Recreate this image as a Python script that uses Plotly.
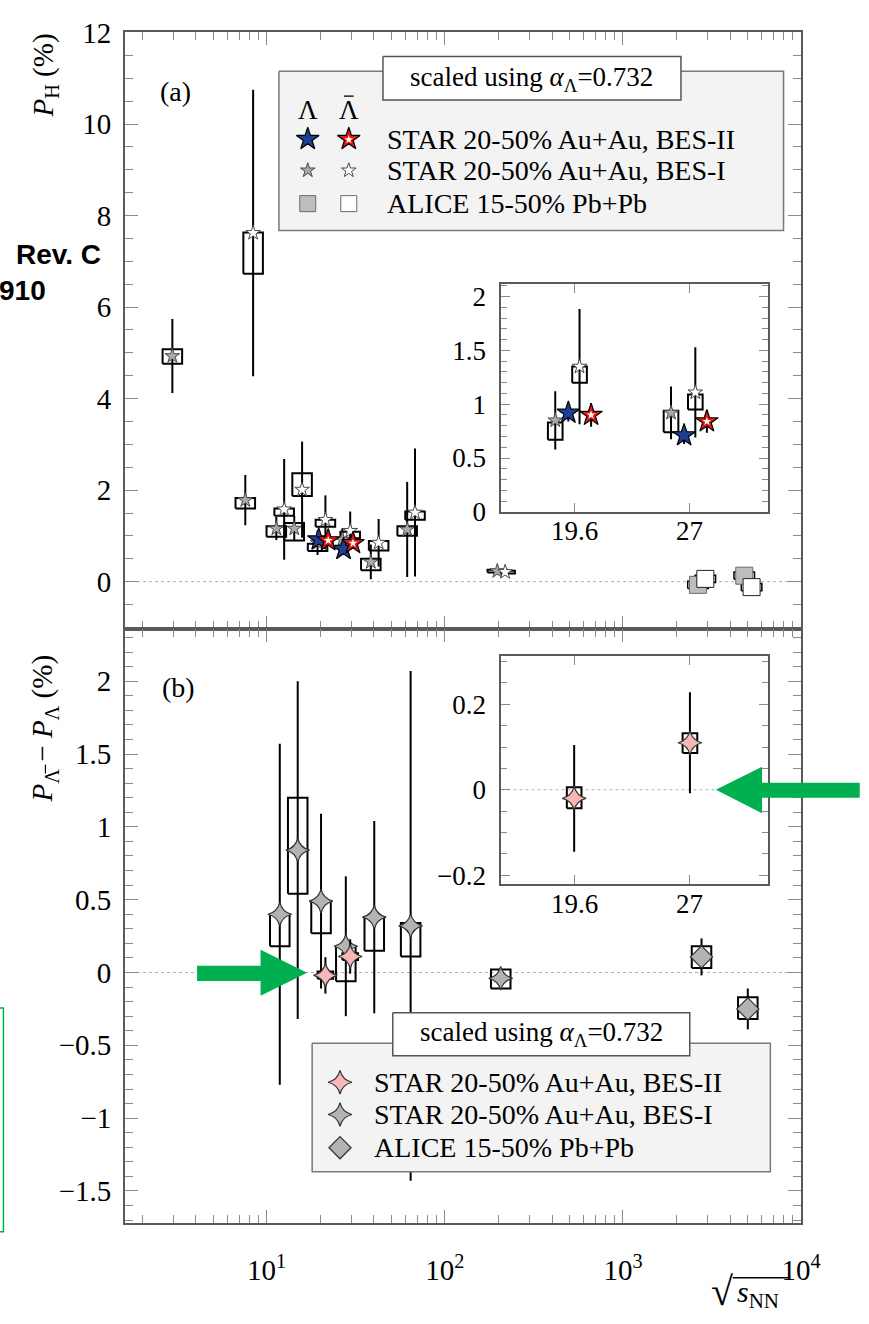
import numpy as np
import plotly.graph_objects as go

W, H = 869, 1324

# ------------------------------------------------------------------ data
# (a) global polarization P_H (%), STAR BES-I (incl. 3 GeV), Lambda
E_bes1_lam = [3.0, 7.7, 11.5, 14.5, 19.6, 27, 39, 62.4, 200]
P_bes1_lam = [4.93, 1.78, 1.16, 1.16, 0.85, 0.92, 0.43, 1.14, 0.23]
stat_bes1_lam = [0.81, 0.55, 0.25, 0.28, 0.27, 0.245, 0.38, 1.04, 0.03]
syslo_bes1_lam = [4.76, 1.60, 0.98, 0.90, 0.67, 0.74, 0.25, 1.00, 0.20]
syshi_bes1_lam = [5.08, 1.83, 1.21, 1.28, 0.83, 0.94, 0.50, 1.21, 0.26]

# STAR BES-I anti-Lambda
E_bes1_alam = [7.7, 11.5, 14.5, 19.6, 27, 39, 62.4, 200]
P_bes1_alam = [7.62, 1.58, 2.01, 1.35, 1.11, 0.85, 1.51, 0.21]
stat_bes1_alam = [3.13, 1.10, 1.05, 0.535, 0.42, 0.52, 1.40, 0.04]
syslo_bes1_alam = [6.73, 1.44, 1.87, 1.20, 0.95, 0.68, 1.35, 0.18]
syshi_bes1_alam = [7.63, 1.60, 2.37, 1.35, 1.09, 0.89, 1.53, 0.24]

# STAR BES-II
E_bes2 = [19.6, 27]
P_bes2_lam = [0.92, 0.71]
stat_bes2_lam = [0.08, 0.08]
P_bes2_alam = [0.90, 0.84]
stat_bes2_alam = [0.11, 0.105]

# ALICE
E_alice = [2760, 5020]
P_alice_lam = [-0.07, 0.13]
P_alice_alam = [0.06, -0.12]
stat_alice = [0.10, 0.10]
sys_alice = [0.08, 0.08]

# (b) P_antiLambda - P_Lambda (%)
E_diff_bes1 = [11.5, 14.5, 19.6, 27, 39, 62.4, 200]
D_bes1 = [0.40, 0.84, 0.49, 0.18, 0.38, 0.32, -0.04]
stat_D_bes1 = [1.17, 1.16, 0.60, 0.48, 0.66, 1.75, 0.05]
syslo_D_bes1 = [0.18, 0.54, 0.27, -0.06, 0.15, 0.11, -0.11]
syshi_D_bes1 = [0.40, 1.20, 0.49, 0.18, 0.38, 0.34, 0.02]

E_diff_bes2 = [19.6, 27]
D_bes2 = [-0.02, 0.11]
stat_D_bes2 = [0.125, 0.118]
syslo_D_bes2 = [-0.043, 0.086]
syshi_D_bes2 = [0.006, 0.132]

E_diff_alice = [2760, 5020]
D_alice = [0.107, -0.25]
stat_D_alice = [0.127, 0.14]
syslo_D_alice = [0.03, -0.32]
syshi_D_alice = [0.18, -0.17]

main_xticks = [10, 100, 1000, 10000]
main_xticklabels = ["10<sup>1</sup>", "10<sup>2</sup>", "10<sup>3</sup>", "10<sup>4</sup>"]
inset_xticks = [19.6, 27]
inset_xticklabels = ["19.6", "27"]

# ------------------------------------------------------------------ style
FONT = "Liberation Serif"
BLACK = "#000000"
FRAME = "#5a5a5a"
TICKC = "#8a8a8a"
BLUE = "#1d3f95"
RED = "#e3170f"
GRAY = "#a9a9a9"
DGRAY = "#4a4a4a"
PINK = "#f6b7b7"
GREEN = "#00b050"

XR_MAIN = [0.205, 4.0]
XR_IN = [np.log10(16.03), np.log10(33.5)]
PX_DEC_MAIN = (820 - 128) / (XR_MAIN[1] - XR_MAIN[0])
PX_DEC_IN = (786 - 513.3) / (XR_IN[1] - XR_IN[0])
HW_MAIN = 10 ** (10 / PX_DEC_MAIN)
HW_IN = 10 ** (7.5 / PX_DEC_IN)

# horizontal display offsets (multiplicative, log axis)
OFF_MAIN = dict(b1l=0.985, b1a=1.09, b2l=1.0, b2a=1.13, al=0.955, aa=1.05,
                d1=1.03, d2=1.09, da=1.0)
OFF_IN = dict(b1l=0.949, b2l=0.984, b1a=1.015, b2a=1.048, d2=1.0)


def px(x):
    return x / W


def py(y):
    return 1 - y / H


def shift(E, f):
    return [e * f for e in E]


def box_xy(xs, lo, hi, hw):
    X, Y = [], []
    for x, l, h in zip(xs, lo, hi):
        X += [x / hw, x * hw, x * hw, x / hw, x / hw, None]
        Y += [l, l, h, h, l, None]
    return X, Y


def pick(E, arr, keep):
    return [a for e, a in zip(E, arr) if e in keep]


fig = go.Figure()


def add_boxes(xs, lo, hi, hw, xa, ya, width=2):
    X, Y = box_xy(xs, lo, hi, hw)
    fig.add_trace(go.Scatter(x=X, y=Y, mode="lines", xaxis=xa, yaxis=ya,
                             line=dict(color=BLACK, width=width),
                             hoverinfo="skip", showlegend=False))


def add_pts(xs, ys, err, xa, ya, symbol, size, fill, lcol, lw):
    fig.add_trace(go.Scatter(
        x=xs, y=ys, mode="markers", xaxis=xa, yaxis=ya,
        error_y=dict(type="data", array=err, visible=True, width=0,
                     thickness=2, color=BLACK) if err is not None else None,
        marker=dict(symbol=symbol, size=size, color=fill,
                    line=dict(color=lcol, width=lw)),
        showlegend=False, hoverinfo="skip"))


# ------------------------------------------------------------------ panel (a)
xb1l = shift(E_bes1_lam, OFF_MAIN["b1l"])
xb1a = shift(E_bes1_alam, OFF_MAIN["b1a"])
add_boxes(xb1l, syslo_bes1_lam, syshi_bes1_lam, HW_MAIN, "x", "y")
add_boxes(xb1a, syslo_bes1_alam, syshi_bes1_alam, HW_MAIN, "x", "y")
add_pts(xb1l, P_bes1_lam, stat_bes1_lam, "x", "y", "star", 11, GRAY, DGRAY, 1)
add_pts(xb1a, P_bes1_alam, stat_bes1_alam, "x", "y", "star", 11, "white", DGRAY, 1)

xal = shift(E_alice, OFF_MAIN["al"])
xaa = shift(E_alice, OFF_MAIN["aa"])
HW_AL = 10 ** (10.5 / PX_DEC_MAIN)
add_boxes(xal, [p - s for p, s in zip(P_alice_lam, sys_alice)],
          [p + s for p, s in zip(P_alice_lam, sys_alice)], HW_AL, "x", "y", 1.5)
add_boxes(xaa, [p - s for p, s in zip(P_alice_alam, sys_alice)],
          [p + s for p, s in zip(P_alice_alam, sys_alice)], HW_AL, "x", "y", 1.5)
add_pts(xal, P_alice_lam, stat_alice, "x", "y", "square", 17, "#bdbdbd", "#6a6a6a", 1)
add_pts(xaa, P_alice_alam, stat_alice, "x", "y", "square", 17, "white", "#222222", 1)

xb2l = shift(E_bes2, OFF_MAIN["b2l"])
xb2a = shift(E_bes2, OFF_MAIN["b2a"])
add_pts(xb2l, P_bes2_lam, stat_bes2_lam, "x", "y", "star", 17, BLUE, BLACK, 1.2)
add_pts(xb2a, P_bes2_alam, stat_bes2_alam, "x", "y", "star", 17, RED, BLACK, 1.2)
add_pts(xb2a, P_bes2_alam, None, "x", "y", "star", 6.5, "white", "white", 0)

# ------------------------------------------------------------------ inset (a)
keep = set(E_bes2)
xi_b1l = shift([e for e in E_bes1_lam if e in keep], OFF_IN["b1l"])
xi_b1a = shift([e for e in E_bes1_alam if e in keep], OFF_IN["b1a"])
add_boxes(xi_b1l, pick(E_bes1_lam, syslo_bes1_lam, keep), pick(E_bes1_lam, syshi_bes1_lam, keep), HW_IN, "x3", "y3")
add_boxes(xi_b1a, pick(E_bes1_alam, syslo_bes1_alam, keep), pick(E_bes1_alam, syshi_bes1_alam, keep), HW_IN, "x3", "y3")
add_pts(xi_b1l, pick(E_bes1_lam, P_bes1_lam, keep), pick(E_bes1_lam, stat_bes1_lam, keep),
        "x3", "y3", "star", 11, GRAY, DGRAY, 1)
add_pts(xi_b1a, pick(E_bes1_alam, P_bes1_alam, keep), pick(E_bes1_alam, stat_bes1_alam, keep),
        "x3", "y3", "star", 11, "white", DGRAY, 1)
xi_b2l = shift(E_bes2, OFF_IN["b2l"])
xi_b2a = shift(E_bes2, OFF_IN["b2a"])
add_pts(xi_b2l, P_bes2_lam, stat_bes2_lam, "x3", "y3", "star", 17, BLUE, BLACK, 1.2)
add_pts(xi_b2a, P_bes2_alam, stat_bes2_alam, "x3", "y3", "star", 17, RED, BLACK, 1.2)
add_pts(xi_b2a, P_bes2_alam, None, "x3", "y3", "star", 6.5, "white", "white", 0)

# ------------------------------------------------------------------ panel (b)
xd1 = shift(E_diff_bes1, OFF_MAIN["d1"])
xd2 = shift(E_diff_bes2, OFF_MAIN["d2"])
xda = shift(E_diff_alice, OFF_MAIN["da"])
add_boxes(xd1, syslo_D_bes1, syshi_D_bes1, HW_MAIN, "x2", "y2")
add_boxes(xd2, syslo_D_bes2, syshi_D_bes2, 10 ** (8 / PX_DEC_MAIN), "x2", "y2")
add_boxes(xda, syslo_D_alice, syshi_D_alice, HW_MAIN, "x2", "y2")
add_pts(xd1, D_bes1, stat_D_bes1, "x2", "y2", "star-diamond", 17, "#b3b3b3", "#333333", 1.2)
add_pts(xd2, D_bes2, stat_D_bes2, "x2", "y2", "star-diamond", 17, PINK, "#333333", 1.2)
add_pts(xda, D_alice, stat_D_alice, "x2", "y2", "diamond", 17, "#b3b3b3", "#333333", 1.2)

# ------------------------------------------------------------------ inset (b)
xi_d2 = shift(E_diff_bes2, OFF_IN["d2"])
add_boxes(xi_d2, syslo_D_bes2, syshi_D_bes2, HW_IN, "x4", "y4")
add_pts(xi_d2, D_bes2, stat_D_bes2, "x4", "y4", "star-diamond", 17, PINK, "#333333", 1.2)

# ------------------------------------------------------------------ legends (overlay in page pixels)
def rect_trace(x0, y0, x1, y1, fill, line, lw):
    fig.add_trace(go.Scatter(x=[x0, x1, x1, x0, x0], y=[y0, y0, y1, y1, y0],
                             mode="lines", fill="toself", fillcolor=fill,
                             line=dict(color=line, width=lw), xaxis="x5", yaxis="y5",
                             hoverinfo="skip", showlegend=False))


def sym(x, y, symbol, size, fill, lcol, lw):
    fig.add_trace(go.Scatter(x=[x], y=[y], mode="markers", xaxis="x5", yaxis="y5",
                             marker=dict(symbol=symbol, size=size, color=fill,
                                         line=dict(color=lcol, width=lw)),
                             hoverinfo="skip", showlegend=False))


rect_trace(285.5, 57.5, 802, 220.5, "#f3f3f3", "#7a7a7a", 1.5)
rect_trace(392, 42.5, 697, 87, "white", "#555555", 1.5)
sym(315, 127, "star", 17, BLUE, BLACK, 1.2)
sym(357, 127, "star", 17, RED, BLACK, 1.2)
sym(357, 127.5, "star", 6.5, "white", "white", 0)
sym(315, 159, "star", 11, GRAY, DGRAY, 1)
sym(357, 159, "star", 11, "white", DGRAY, 1)
sym(315, 193, "square", 16, "#bdbdbd", "#6a6a6a", 1)
sym(357, 193, "square", 16, "white", "#6a6a6a", 1)

rect_trace(319.5, 1052, 788.5, 1183.5, "#f3f3f3", "#7a7a7a", 1.5)
rect_trace(402, 1021, 706, 1065, "white", "#555555", 1.5)
sym(348, 1092, "star-diamond", 17, PINK, "#333333", 1.2)
sym(348, 1125, "star-diamond", 17, "#b3b3b3", "#333333", 1.2)
sym(348, 1159, "diamond", 17, "#b3b3b3", "#333333", 1.2)

# ------------------------------------------------------------------ axes
def log_minor(lo, hi):
    out = []
    for k in range(lo, hi + 1):
        for m in range(2, 10):
            out.append(m * 10 ** k)
    return out


tickfont = dict(family=FONT, size=29, color=BLACK)
infont = dict(family=FONT, size=27, color=BLACK)

common_x = dict(type="log", range=XR_MAIN, domain=[px(128), px(820)],
                tickmode="array", tickvals=main_xticks, ticks="inside", ticklen=13,
                tickwidth=1.3, tickcolor=TICKC, showline=True, linecolor=FRAME,
                linewidth=2, mirror="allticks", showgrid=False, zeroline=False,
                minor=dict(tickmode="array", tickvals=log_minor(0, 3), ticks="inside",
                           ticklen=8, tickcolor=TICKC, tickwidth=1.2, showgrid=False))
common_y = dict(ticks="inside", ticklen=13, tickwidth=1.3, tickcolor=TICKC,
                showline=True, linecolor=FRAME, linewidth=2, mirror="allticks",
                showgrid=False, zeroline=False, tickfont=tickfont,
                ticklabelstandoff=6)
inset_x = dict(type="log", range=XR_IN, domain=[px(513.3), px(786)],
               tickmode="array", tickvals=inset_xticks, showticklabels=False,
               ticks="inside", ticklen=9, tickwidth=1.2, tickcolor=TICKC,
               showline=True, linecolor=FRAME, linewidth=2, mirror="allticks",
               showgrid=False, zeroline=False)
inset_y = dict(tickfont=infont, ticks="inside", ticklen=9, tickwidth=1.2, tickcolor=TICKC,
               showline=True, linecolor=FRAME, linewidth=2, mirror="allticks",
               showgrid=False, zeroline=False, ticklabelstandoff=8)

fig.update_layout(
    xaxis=dict(common_x, anchor="y", showticklabels=False),
    yaxis=dict(common_y, anchor="x", domain=[py(628), py(17)], range=[-1.03, 12.02],
               tickvals=[0, 2, 4, 6, 8, 10, 12],
               minor=dict(dtick=0.5, tick0=0, ticks="inside", ticklen=8, tickcolor=TICKC,
                          tickwidth=1.2, showgrid=False)),
    xaxis2=dict(common_x, anchor="y2", ticktext=main_xticklabels, tickfont=tickfont,
                ticklabelstandoff=20),
    yaxis2=dict(common_y, anchor="x2", domain=[py(1236), py(628)], range=[-1.72, 2.36],
                tickvals=[-1.5, -1, -0.5, 0, 0.5, 1, 1.5, 2],
                minor=dict(dtick=0.1, tick0=0, ticks="inside", ticklen=8, tickcolor=TICKC,
                           tickwidth=1.2, showgrid=False)),
    xaxis3=dict(inset_x, anchor="y3"),
    yaxis3=dict(inset_y, range=[0, 2.12], domain=[py(508.3), py(275)], anchor="x3",
                tickvals=[0, 0.5, 1, 1.5, 2],
                minor=dict(dtick=0.1, tick0=0, ticks="inside", ticklen=6, tickcolor=TICKC,
                           tickwidth=1.1, showgrid=False)),
    xaxis4=dict(inset_x, anchor="y4"),
    yaxis4=dict(inset_y, range=[-0.22, 0.3125], domain=[py(889), py(656)], anchor="x4",
                tickvals=[-0.2, 0, 0.2],
                minor=dict(dtick=0.05, tick0=0, ticks="inside", ticklen=6, tickcolor=TICKC,
                           tickwidth=1.1, showgrid=False)),
    xaxis5=dict(range=[0, W], domain=[0, 1], anchor="y5", visible=False, fixedrange=True),
    yaxis5=dict(range=[H, 0], domain=[0, 1], anchor="x5", visible=False, fixedrange=True),
    width=W, height=H, margin=dict(l=0, r=0, t=0, b=0),
    paper_bgcolor="white", plot_bgcolor="rgba(0,0,0,0)", showlegend=False,
)

# zero lines (dotted)
shapes = []
for xr, yr in (("x domain", "y"), ("x2 domain", "y2"), ("x4 domain", "y4")):
    shapes.append(dict(type="line", xref=xr, yref=yr, x0=0, x1=1, y0=0, y1=0,
                       line=dict(color="#b0b0b0", width=1, dash="dot"), layer="below"))


# green arrows and green frame (page decorations)
def path(pts):
    return "M " + " L ".join(f"{px(a):.5f},{py(b):.5f}" for a, b in pts) + " Z"


shapes.append(dict(type="path", xref="paper", yref="paper",
                   path=path([(201.7, 972.7), (266.7, 972.7), (266.7, 956.5), (314.3, 980),
                              (266.7, 1003.5), (266.7, 988.3), (201.7, 988.3)]),
                   fillcolor=GREEN, line=dict(width=0), layer="above"))
shapes.append(dict(type="path", xref="paper", yref="paper",
                   path=path([(880, 785.5), (780, 785.5), (780, 769.3), (732.7, 792.7),
                              (780, 816.7), (780, 801), (880, 801)]),
                   fillcolor=GREEN, line=dict(width=0), layer="above"))
shapes.append(dict(type="rect", xref="paper", yref="paper", x0=px(-10), x1=px(3.5),
                   y0=py(1245), y1=py(1016), line=dict(color=GREEN, width=1.5)))
# macron over the legend-header anti-Lambda
shapes.append(dict(type="line", xref="paper", yref="paper", x0=px(352), x1=px(362),
                   y0=py(83), y1=py(83), line=dict(color=BLACK, width=1.3)))
# macron over the anti-Lambda subscript of the rotated y title
shapes.append(dict(type="line", xref="paper", yref="paper", x0=px(46.5), x1=px(46.5),
                   y0=py(767), y1=py(776), line=dict(color=BLACK, width=1.2)))
# radical overline for sqrt(s_NN)
shapes.append(dict(type="line", xref="paper", yref="paper", x0=px(750), x1=px(809),
                   y0=py(1292), y1=py(1292), line=dict(color=BLACK, width=1.3)))
fig.update_layout(shapes=shapes)

# ------------------------------------------------------------------ text
ann = []


def text(x, y, s, size=28, xanchor="center", angle=0, family=FONT, color=BLACK):
    ann.append(dict(x=px(x), y=py(y), xref="paper", yref="paper", text=s,
                    showarrow=False, xanchor=xanchor, yanchor="middle",
                    textangle=angle, font=dict(family=family, size=size, color=color)))


# inset x tick labels, placed through the inset axis scale
for xa, ybase in (("x3", 528), ("x4", 910)):
    for tv, tt in zip(inset_xticks, inset_xticklabels):
        ann.append(dict(x=np.log10(tv), xref=xa, y=py(ybase), yref="paper", text=tt,
                        showarrow=False, xanchor="center", yanchor="middle",
                        font=infont))

text(180, 78, "(a)", 28)
text(183, 688, "(b)", 28)
text(46, 62, "<i>P</i><sub>H</sub> (%)", 29, angle=-90)
text(46, 730, "<i>P</i><sub>Λ</sub> − <i>P</i><sub>Λ</sub> (%)", 29, angle=-90)
text(752, 1306, "√", 40, xanchor="right")
text(752, 1309, "<i>s</i><sub>NN</sub>", 30, xanchor="left")

text(544.5, 65, "scaled using <i>α</i><sub>Λ</sub>=0.732", 27)
text(315, 97, "Λ", 27)
text(357, 97, "Λ", 27)
text(394, 127, "STAR 20-50% Au+Au, BES-II", 28, xanchor="left")
text(394, 159, "STAR 20-50% Au+Au, BES-I", 28, xanchor="left")
text(394, 193, "ALICE 15-50% Pb+Pb", 28, xanchor="left")

text(554, 1043, "scaled using <i>α</i><sub>Λ</sub>=0.732", 27)
text(381, 1092, "STAR 20-50% Au+Au, BES-II", 28, xanchor="left")
text(381, 1125, "STAR 20-50% Au+Au, BES-I", 28, xanchor="left")
text(381, 1159, "ALICE 15-50% Pb+Pb", 28, xanchor="left")

text(105, 245, "<b>Rev. C</b>", 28, xanchor="right", family="Liberation Sans")
text(49, 282, "<b>910</b>", 28, xanchor="right", family="Liberation Sans")

fig.update_layout(annotations=ann)
fig.write_html("out.html")
